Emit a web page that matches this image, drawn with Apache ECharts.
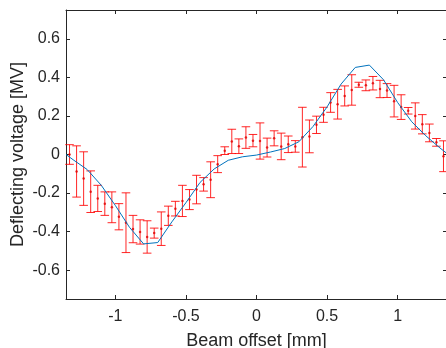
<!DOCTYPE html>
<html>
<head>
<meta charset="utf-8">
<script src="https://cdn.jsdelivr.net/npm/echarts@6/dist/echarts.min.js"></script>
<style>html,body{margin:0;padding:0;background:#fff;}#c{width:446px;height:348px;}</style>
</head>
<body>
<div id="c"></div>
<script>
// Measured error-bar data
const barX = [-1.325,-1.275,-1.225,-1.175,-1.125,-1.075,-1.025,-0.975,-0.925,-0.875,-0.825,-0.775,-0.725,-0.675,-0.625,-0.575,-0.525,-0.475,-0.425,-0.375,-0.325,-0.275,-0.225,-0.175,-0.125,-0.075,-0.025,0.025,0.075,0.125,0.175,0.225,0.275,0.325,0.375,0.425,0.475,0.525,0.575,0.625,0.675,0.725,0.775,0.825,0.875,0.925,0.975,1.025,1.075,1.125,1.175,1.225,1.275,1.325];
const barMean = [0.000,-0.088,-0.125,-0.193,-0.228,-0.255,-0.274,-0.323,-0.354,-0.387,-0.402,-0.428,-0.408,-0.385,-0.318,-0.281,-0.241,-0.234,-0.182,-0.155,-0.131,-0.050,0.020,0.068,0.043,0.088,0.072,0.070,0.036,0.084,0.042,0.053,0.042,0.090,0.094,0.154,0.206,0.270,0.261,0.304,0.335,0.362,0.359,0.370,0.340,0.332,0.277,0.246,0.227,0.200,0.157,0.112,0.063,-0.009];
const barErr = [0.051,0.133,0.139,0.108,0.068,0.061,0.080,0.068,0.155,0.071,0.063,0.084,0.026,0.087,0.050,0.038,0.081,0.052,0.074,0.035,0.093,0.044,0.020,0.063,0.038,0.056,0.032,0.094,0.049,0.039,0.069,0.043,0.030,0.155,0.085,0.045,0.039,0.051,0.077,0.052,0.079,0.013,0.028,0.035,0.045,0.036,0.082,0.064,0.017,0.068,0.050,0.046,0.020,0.080];
// Model curve
const lineX = [-1.35,-1.3,-1.2,-1.1,-1.0,-0.9,-0.8,-0.7,-0.6,-0.5,-0.4,-0.3,-0.2,-0.1,0.0,0.1,0.2,0.3,0.4,0.5,0.6,0.7,0.8,0.9,1.0,1.1,1.2,1.3,1.35];
const lineY = [0.0,-0.027,-0.078,-0.16,-0.265,-0.378,-0.464,-0.457,-0.35,-0.25,-0.145,-0.075,-0.03,-0.012,-0.003,0.013,0.031,0.066,0.145,0.247,0.366,0.452,0.464,0.388,0.27,0.17,0.097,0.034,0.005];
// Ticks
const xTicks = [-1,-0.5,0,0.5,1];
const yTicks = [-0.6,-0.4,-0.2,0,0.2,0.4,0.6];

const FONT = "'Liberation Sans', Arial, sans-serif";
const AX = '#262626';
const chart = echarts.init(document.getElementById('c'), null, {renderer:'canvas'});

function axisCommon(ticks, showLabel) {
  return {
    axisLine: {show:true, onZero:false, lineStyle:{color:AX, width:1}},
    axisTick: {show:true, inside:true, length:4, customValues: ticks, lineStyle:{color:AX}},
    axisLabel: {show:showLabel, customValues: ticks, color:AX, fontFamily:FONT, fontSize:16,
                formatter: v => String(v)},
    splitLine: {show:false}
  };
}

chart.setOption({
  animation:false,
  backgroundColor:'#fff',
  grid:{left:66, top:10, width:381, height:289, containLabel:false, outerBoundsMode:'none'},
  xAxis:[
    Object.assign({type:'value', min:-1.35, max:1.35, position:'bottom',
      name:'Beam offset [mm]', nameLocation:'middle', nameGap:33,
      nameTextStyle:{color:AX, fontFamily:FONT, fontSize:18}}, axisCommon(xTicks, true), {axisLabel:{show:true, customValues:xTicks, color:AX, fontFamily:FONT, fontSize:16, margin:10, formatter:v=>String(v)}}),
    Object.assign({type:'value', min:-1.35, max:1.35, position:'top'}, axisCommon(xTicks, false))
  ],
  yAxis:[
    Object.assign({type:'value', min:-0.75, max:0.75, position:'left',
      name:'Deflecting voltage [MV]', nameLocation:'middle', nameGap:39, nameMoveOverlap:false,
      nameTextStyle:{color:AX, fontFamily:FONT, fontSize:18}}, axisCommon(yTicks, true), {axisLabel:{show:true, customValues:yTicks, color:AX, fontFamily:FONT, fontSize:16, margin:6, formatter:v=>String(v)}}),
    Object.assign({type:'value', min:-0.75, max:0.75, position:'right'}, axisCommon(yTicks, false))
  ],
  series:[
    {
      type:'custom',
      xAxisIndex:0, yAxisIndex:0,
      data: barX.map((x,i)=>[x, barMean[i], barErr[i]]),
      encode:{x:0, y:1},
      renderItem:function(params, api){
        const x = api.value(0), m = api.value(1), e = api.value(2);
        const t = api.coord([x, m+e]);
        const b = api.coord([x, m-e]);
        const hw = 4.3;
        const st = {stroke:'rgba(255,0,0,0.85)', lineWidth:1};
        return {type:'group', children:[
          {type:'line', shape:{x1:t[0], y1:t[1], x2:b[0], y2:b[1]}, style:st},
          {type:'line', shape:{x1:t[0]-hw, y1:t[1], x2:t[0]+hw, y2:t[1]}, style:st},
          {type:'line', shape:{x1:b[0]-hw, y1:b[1], x2:b[0]+hw, y2:b[1]}, style:st}
        ]};
      },
      z:2
    },
    {
      type:'scatter',
      xAxisIndex:0, yAxisIndex:0,
      data: barX.map((x,i)=>[x, barMean[i]]),
      symbol:'circle', symbolSize:2.5,
      itemStyle:{color:'#e00000'},
      z:3
    },
    {
      type:'line',
      xAxisIndex:0, yAxisIndex:0,
      data: lineX.map((x,i)=>[x, lineY[i]]),
      showSymbol:false, symbol:'none',
      lineStyle:{color:'#0072BD', width:1},
      clip:true,
      z:4
    }
  ]
});
</script>
</body>
</html>
